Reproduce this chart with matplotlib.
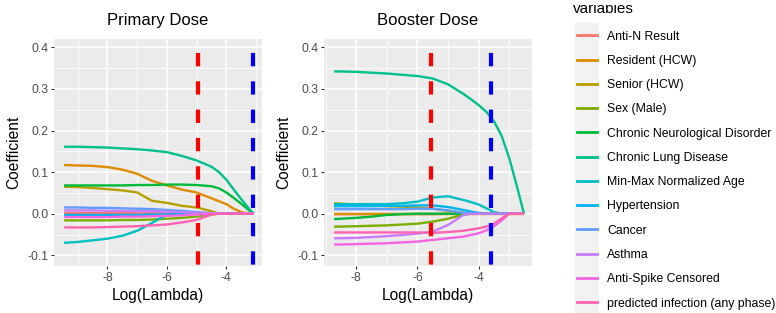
import numpy as np
import matplotlib
matplotlib.use("Agg")
import matplotlib.pyplot as plt
from matplotlib.patches import Rectangle
from matplotlib.transforms import Bbox

plt.rcParams["font.family"] = ["Liberation Sans", "DejaVu Sans"]
plt.rcParams["lines.scale_dashes"] = False

# variables (ggplot default hue palette, 12 levels)
variables = ["Anti-N Result", "Resident (HCW)", "Senior (HCW)", "Sex (Male)",
             "Chronic Neurological Disorder", "Chronic Lung Disease",
             "Min-Max Normalized Age", "Hypertension", "Cancer", "Asthma",
             "Anti-Spike Censored", "predicted infection (any phase)"]
colors = ["#F8766D", "#DE8C00", "#B79F00", "#7CAE00", "#00BA38", "#00C08B",
          "#00BFC4", "#00B4F0", "#619CFF", "#C77CFF", "#F564E3", "#FF64B0"]

# Primary dose coefficient paths
primary_loglam = [-9.46, -9.0, -8.5, -8.0, -7.5, -7.0, -6.5, -6.0, -5.5, -5.0,
                  -4.5, -4.25, -4.0, -3.75, -3.5, -3.25, -3.08]
primary_coef = {
    "Anti-N Result":       [0.002, 0.002, 0.002, 0.002, 0.002, 0.002, 0.002, 0.001, 0.001, 0.0, 0, 0, 0, 0, 0, 0, 0],
    "Resident (HCW)":      [0.117, 0.116, 0.115, 0.112, 0.106, 0.096, 0.079, 0.068, 0.058, 0.051, 0.037, 0.030, 0.023, 0.012, 0.004, 0, 0],
    "Senior (HCW)":        [0.065, 0.064, 0.062, 0.059, 0.056, 0.051, 0.031, 0.026, 0.019, 0.015, 0.006, 0, 0, 0, 0, 0, 0],
    "Sex (Male)":          [-0.016, -0.016, -0.016, -0.016, -0.015, -0.015, -0.014, -0.012, -0.010, -0.007, -0.002, 0, 0, 0, 0, 0, 0],
    "Chronic Neurological Disorder": [0.068, 0.068, 0.068, 0.068, 0.068, 0.069, 0.069, 0.070, 0.070, 0.069, 0.066, 0.061, 0.051, 0.038, 0.024, 0.009, 0],
    "Chronic Lung Disease": [0.161, 0.161, 0.160, 0.159, 0.157, 0.155, 0.152, 0.148, 0.139, 0.128, 0.113, 0.100, 0.082, 0.058, 0.035, 0.013, 0],
    "Min-Max Normalized Age": [-0.070, -0.068, -0.064, -0.060, -0.053, -0.041, -0.022, -0.002, 0.003, 0.002, 0, 0, 0, 0, 0, 0, 0],
    "Hypertension":        [-0.003, -0.003, -0.003, -0.003, -0.003, -0.003, -0.002, -0.002, -0.001, 0, 0, 0, 0, 0, 0, 0, 0],
    "Cancer":              [0.015, 0.015, 0.014, 0.014, 0.013, 0.012, 0.011, 0.009, 0.007, 0.004, 0.001, 0, 0, 0, 0, 0, 0],
    "Asthma":              [0.008, 0.008, 0.008, 0.007, 0.007, 0.006, 0.006, 0.005, 0.004, 0.002, 0.001, 0, 0, 0, 0, 0, 0],
    "Anti-Spike Censored": [-0.008, -0.008, -0.008, -0.008, -0.007, -0.007, -0.006, -0.005, -0.004, -0.002, 0, 0, 0, 0, 0, 0, 0],
    "predicted infection (any phase)": [-0.033, -0.033, -0.033, -0.032, -0.031, -0.030, -0.028, -0.026, -0.021, -0.015, -0.002, 0, 0, 0, 0, 0, 0],
}
primary_vlines = [-4.94, -3.10]

# Booster dose coefficient paths
booster_loglam = [-8.72, -8.5, -8.0, -7.5, -7.0, -6.5, -6.0, -5.5, -5.0, -4.5,
                  -4.25, -4.0, -3.75, -3.5, -3.25, -3.0, -2.75, -2.52]
booster_coef = {
    "Anti-N Result":       [-0.001, -0.001, -0.001, -0.001, -0.001, -0.001, -0.001, -0.001, 0, 0, 0, 0, 0, 0, 0, 0, 0, 0],
    "Resident (HCW)":      [0] * 18,
    "Senior (HCW)":        [0.025, 0.024, 0.022, 0.020, 0.018, 0.017, 0.015, 0.012, 0.007, 0.002, 0, 0, 0, 0, 0, 0, 0, 0],
    "Sex (Male)":          [-0.031, -0.031, -0.030, -0.029, -0.028, -0.026, -0.024, -0.019, -0.012, -0.002, 0, 0, 0, 0, 0, 0, 0, 0],
    "Chronic Neurological Disorder": [-0.013, -0.012, -0.010, -0.007, -0.003, -0.001, 0, 0, 0, 0, 0, 0, 0, 0, 0, 0, 0, 0],
    "Chronic Lung Disease": [0.342, 0.342, 0.341, 0.339, 0.337, 0.334, 0.331, 0.325, 0.311, 0.288, 0.275, 0.261, 0.245, 0.222, 0.187, 0.133, 0.065, 0],
    "Min-Max Normalized Age": [0.023, 0.023, 0.023, 0.023, 0.023, 0.025, 0.029, 0.039, 0.042, 0.033, 0.028, 0.022, 0.013, 0.004, 0, 0, 0, 0],
    "Hypertension":        [0.018, 0.018, 0.018, 0.018, 0.019, 0.019, 0.020, 0.020, 0.016, 0.009, 0.005, 0.002, 0, 0, 0, 0, 0, 0],
    "Cancer":              [0.011, 0.011, 0.011, 0.011, 0.011, 0.011, 0.012, 0.012, 0.008, 0.002, 0, 0, 0, 0, 0, 0, 0, 0],
    "Asthma":              [-0.059, -0.059, -0.058, -0.056, -0.054, -0.051, -0.048, -0.043, -0.027, -0.003, 0, 0, 0, 0, 0, 0, 0, 0],
    "Anti-Spike Censored": [-0.074, -0.074, -0.073, -0.072, -0.071, -0.069, -0.067, -0.063, -0.059, -0.055, -0.051, -0.047, -0.040, -0.030, -0.016, 0, 0, 0],
    "predicted infection (any phase)": [-0.045, -0.045, -0.045, -0.045, -0.045, -0.045, -0.045, -0.046, -0.044, -0.041, -0.038, -0.035, -0.031, -0.024, -0.011, 0, 0, 0],
}
booster_vlines = [-5.55, -3.60]

W, H = 776, 313
fig = plt.figure(figsize=(W / 100, H / 100), dpi=100)


def px_axes(x0, y0, x1, y1):
    return fig.add_axes([x0 / W, 1 - y1 / H, (x1 - x0) / W, (y1 - y0) / H])


def draw_panel(ax, loglam, coef, vlines, title, xlim):
    ax.set_facecolor("#EBEBEB")
    for v, c in zip(variables, colors):
        ax.plot(loglam, coef[v], color=c, lw=1.7, solid_capstyle="butt", zorder=3)
    dash = (19.4, (9.6, 10.8))
    ax.axvline(vlines[0], color="red", lw=3, linestyle=dash, zorder=4)
    ax.axvline(vlines[1], color="blue", lw=3, linestyle=dash, zorder=4)
    ax.set_xlim(*xlim)
    ax.set_ylim(-0.1257, 0.420)
    ax.set_xticks([-8, -6, -4])
    ax.set_xticklabels(["-8", "-6", "-4"])
    ax.set_xticks([-9, -7, -5, -3], minor=True)
    ax.set_yticks([-0.1, 0.0, 0.1, 0.2, 0.3, 0.4])
    ax.set_yticklabels(["-0.1", "0.0", "0.1", "0.2", "0.3", "0.4"])
    ax.set_yticks([-0.05, 0.05, 0.15, 0.25, 0.35], minor=True)
    ax.grid(which="major", color="white", lw=1.1)
    ax.grid(which="minor", color="white", lw=0.55)
    ax.set_axisbelow(True)
    for s in ax.spines.values():
        s.set_visible(False)
    ax.tick_params(which="major", length=2.4, width=0.8, color="#333333",
                   labelcolor="#4D4D4D", labelsize=8.8, pad=1.8)
    ax.tick_params(which="minor", length=0)
    ax.set_title(title, fontsize=12, pad=10)
    ax.set_xlabel("Log(Lambda)", fontsize=11.2, labelpad=3)
    ax.set_ylabel("Coefficient", fontsize=11.2, labelpad=4)


ax1 = px_axes(54, 39, 262, 266)
draw_panel(ax1, primary_loglam, primary_coef, primary_vlines, "Primary Dose", (-9.80, -2.80))
ax2 = px_axes(324, 39, 532, 266)
draw_panel(ax2, booster_loglam, booster_coef, booster_vlines, "Booster Dose", (-9.05, -2.26))

# legend
ttl = fig.text(573 / W, 1 - 13.3 / H, "variables", fontsize=11, va="baseline", ha="left")
ttl.set_clip_box(Bbox.from_extents(0, 0, W, H - 5))
ttl.set_clip_on(True)
fig.patches.append(Rectangle((575 / W, 0), 24 / W, 1 - 23 / H, transform=fig.transFigure,
                             facecolor="#F2F2F2", edgecolor="none", zorder=0))
handles = [plt.Line2D([], [], color=c, lw=2) for c in colors]
fig.legend(handles, variables, loc="upper left", bbox_to_anchor=(577 / W, 1 - 30.5 / H),
           frameon=False, fontsize=8.8, borderpad=0, borderaxespad=0,
           handlelength=1.6, handletextpad=0.85, labelspacing=1.005)

fig.savefig("out.png", dpi=100)
